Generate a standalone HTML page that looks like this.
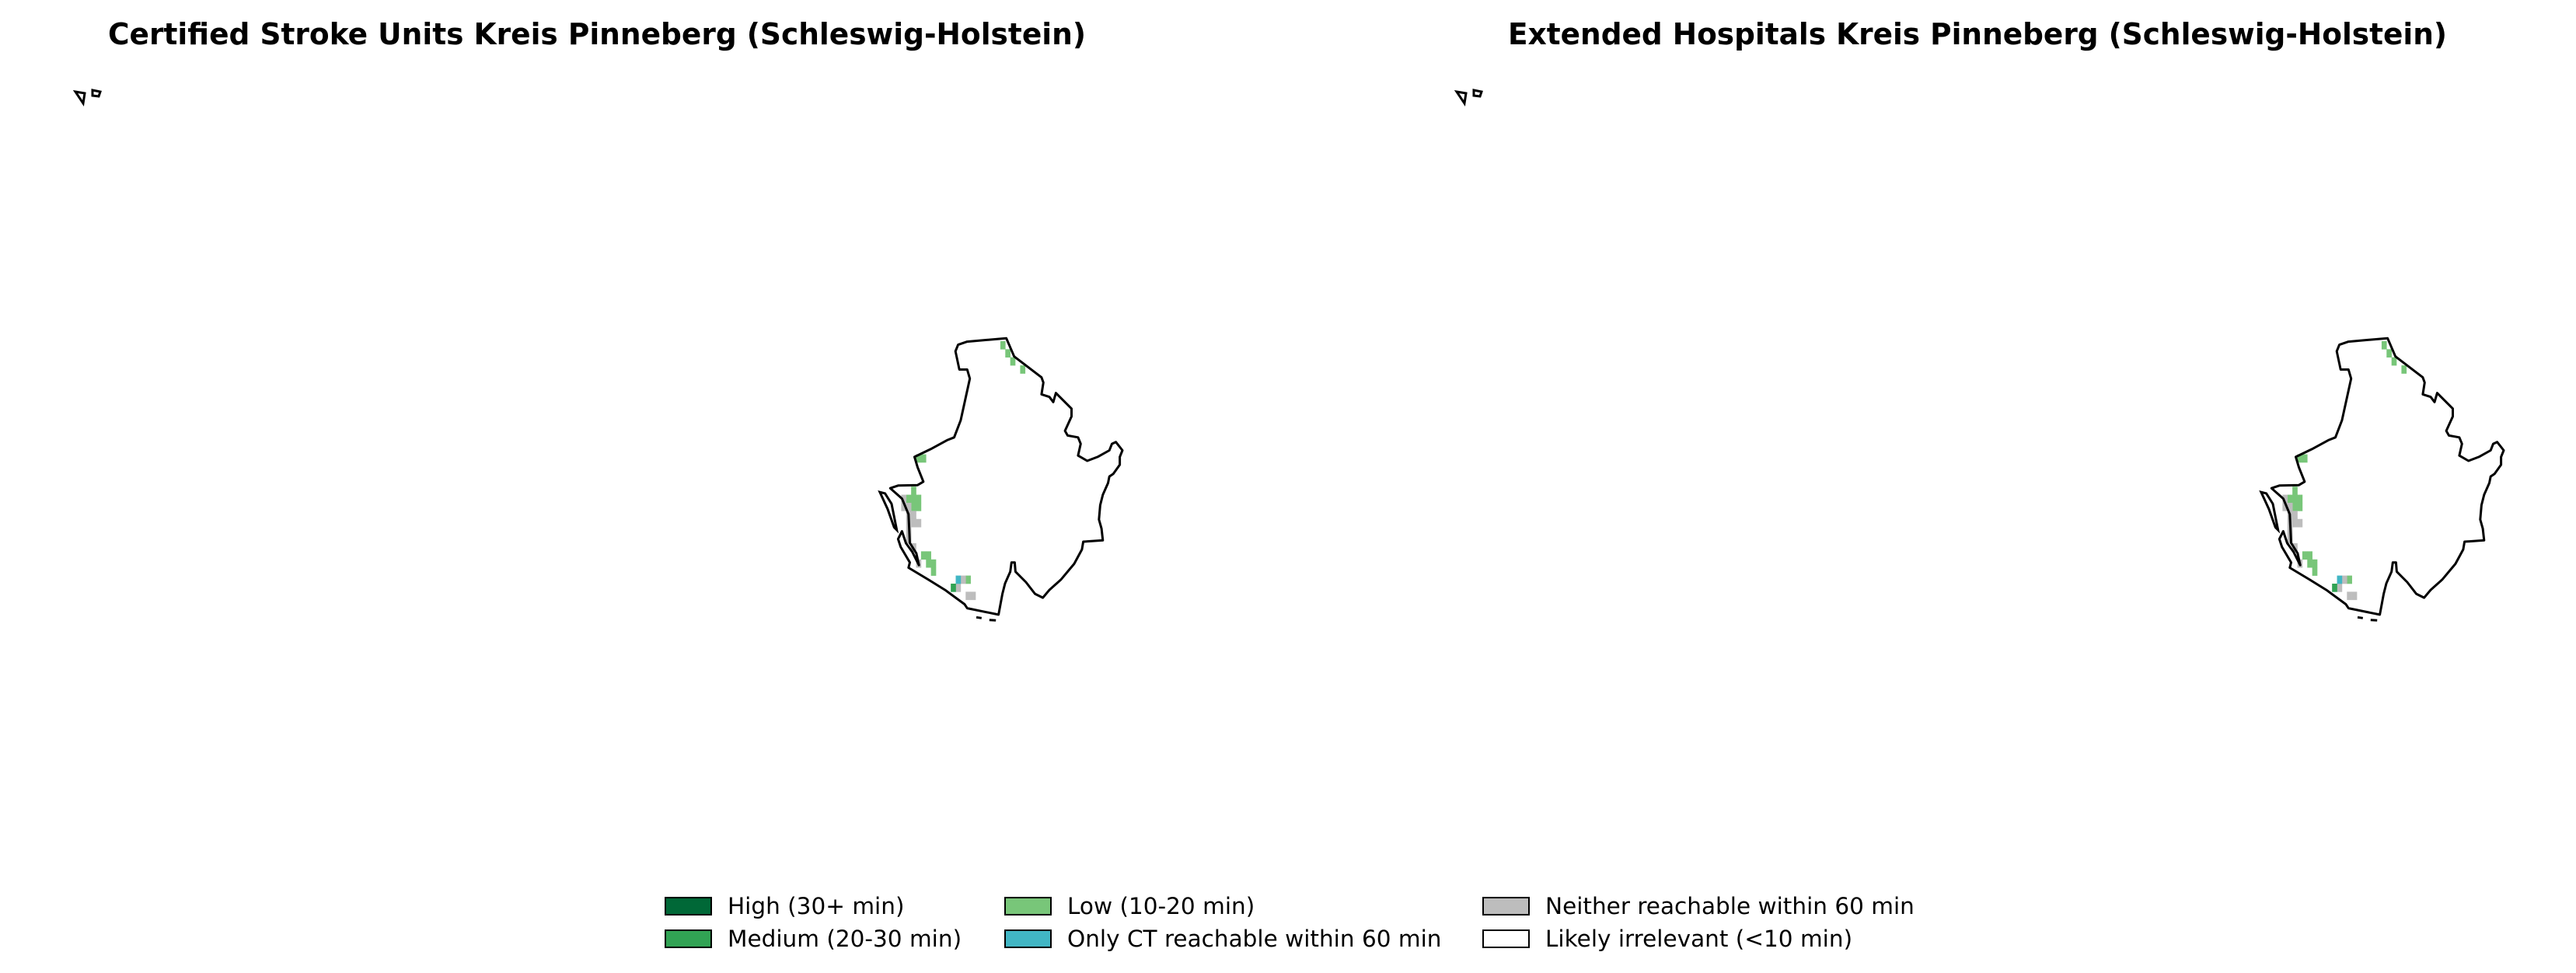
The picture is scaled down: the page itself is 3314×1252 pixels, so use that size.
<!DOCTYPE html>
<html><head><meta charset="utf-8"><style>
html,body{margin:0;padding:0;background:#fff;}
svg{display:block;font-family:"DejaVu Sans","Liberation Sans",sans-serif;}
</style></head><body>
<svg id="chart" width="3314" height="1252" viewBox="0 0 3314 1252" xmlns="http://www.w3.org/2000/svg">
<rect width="3314" height="1252" fill="#fff"/>
<text x="139" y="57" font-size="38" font-weight="bold" textLength="1258" lengthAdjust="spacingAndGlyphs">Certified Stroke Units Kreis Pinneberg (Schleswig-Holstein)</text>
<text x="1940" y="57" font-size="38" font-weight="bold" textLength="1208" lengthAdjust="spacingAndGlyphs">Extended Hospitals Kreis Pinneberg (Schleswig-Holstein)</text>
<g id="maps"></g>
<g id="legend"></g>
</svg>
<script>
// Data
const categories = ["High (30+ min)","Medium (20-30 min)","Low (10-20 min)","Only CT reachable within 60 min","Neither reachable within 60 min","Likely irrelevant (<10 min)"];
const catColors = ["#006837","#31a354","#78c679","#41b6c4","#bdbdbd","#ffffff"];
const cellCols = [20,21,22,24,3,4,2,1,2,3,2,3,4,5,5,6,6,13, 0,0,1,1,2,1,2,3,1,1,2,3,12,11,13,14, 11, 10];
const cellRows = [-19,-18,-17,-16,-5,-5,-1,0,0,0,1,1,7,7,8,8,9,10, 0,1,1,2,2,3,3,3,4,5,6,8,10,11,12,12, 10, 11];
const cellCats = [2,2,2,2,2,2,2,2,2,2,2,2,2,2,2,2,2,2, 4,4,4,4,4,4,4,4,4,4,4,4,4,4,4,4, 3, 1];
const panelOffsets = [0,1777];
const panelNames = ["left-map","right-map"];

const NS="http://www.w3.org/2000/svg";
const S=2.98, OX=1100, OY=400;
function zx(x){return OX+x/S;}
function zy(y){return OY+y/S;}
const cellW=19/S, cellH=31/S, gx0=zx(177), gy0=zy(705);
function cellX(c){return gx0+c*cellW;}
function cellY(r){return gy0+r*cellH;}

const outline=[[430,118],[580,105],[610,175],[715,255],[722,275],[715,320],[745,330],[760,350],[770,315],[830,375],[830,405],[805,460],[815,478],[855,485],[865,510],[855,555],[890,575],[930,560],[975,535],[985,510],[1000,503],[1025,535],[1015,560],[1015,590],[990,625],[975,635],[970,660],[950,705],[940,745],[935,800],[945,835],[950,880],[875,885],[870,915],[840,970],[790,1030],[745,1070],[720,1100],[690,1085],[655,1040],[615,1000],[612,965],[600,965],[595,1000],[575,1045],[565,1085],[550,1165],[430,1140],[420,1125],[345,1070],[280,1030],[205,985],[210,965],[175,905],[165,875],[180,845],[195,890],[220,925],[245,975],[235,930],[210,890],[205,780],[180,720],[135,680],[165,670],[240,668],[262,655],[240,600],[228,560],[290,530],[355,495],[380,485],[405,420],[440,260],[430,225],[400,225],[385,155],[395,130],[430,118]];
const island=[[95,695],[115,700],[140,740],[160,840],[150,830],[125,760],[95,695]];
const dash1=[[465,1175],[485,1178]], dash2=[[515,1185],[540,1187]];
function pts(a,dx){return a.map(p=>(zx(p[0])+dx).toFixed(1)+","+zy(p[1]).toFixed(1)).join(" ");}

const maps=document.getElementById('maps');
panelOffsets.forEach((dx,pi)=>{
  const g=document.createElementNS(NS,'g');
  
  
  maps.appendChild(g);
  for(let i=0;i<cellCols.length;i++){
    const r=document.createElementNS(NS,'rect');
    r.setAttribute('x',cellX(cellCols[i])+dx);
    r.setAttribute('y',cellY(cellRows[i]));
    r.setAttribute('width',cellW+0.3);
    r.setAttribute('height',cellH+0.3);
    r.setAttribute('fill',catColors[cellCats[i]]);
    
    
    g.appendChild(r);
  }
  const p=document.createElementNS(NS,'polygon');
  p.setAttribute('points',pts(outline,dx));
  p.setAttribute('fill','none');p.setAttribute('stroke','#000');p.setAttribute('stroke-width','3');p.setAttribute('stroke-linejoin','round');
  
  
  g.appendChild(p);
  const is=document.createElementNS(NS,'polygon');
  is.setAttribute('points',pts(island,dx));
  is.setAttribute('fill','none');is.setAttribute('stroke','#000');is.setAttribute('stroke-width','3');
  
  
  g.appendChild(is);
  [dash1,dash2].forEach(d=>{
    const l=document.createElementNS(NS,'polyline');
    l.setAttribute('points',pts(d,dx));
    l.setAttribute('stroke','#000');l.setAttribute('stroke-width','3');
    
    
    g.appendChild(l);
  });
  const sm=document.createElementNS(NS,'path');
  const bx=97+dx;
  sm.setAttribute('d',`M${bx},118 L${bx+12},120 L${bx+10},133 Z M${bx+22},116 L${bx+32},118 L${bx+30},124 L${bx+22},123 Z`);
  sm.setAttribute('fill','none');sm.setAttribute('stroke','#000');sm.setAttribute('stroke-width','3');
  
  
  g.appendChild(sm);
});

const legend=document.getElementById('legend');
const lx=[856,856,1293,1293,1908,1908], ly=[1166,1208,1166,1208,1166,1208];
const order=[0,1,2,3,4,5];
order.forEach((ci,i)=>{
  const r=document.createElementNS(NS,'rect');
  r.setAttribute('x',lx[i]);r.setAttribute('y',ly[i]-11);r.setAttribute('width',59);r.setAttribute('height',22);
  r.setAttribute('fill',catColors[ci]);r.setAttribute('stroke','#000');r.setAttribute('stroke-width','2');
  
  
  legend.appendChild(r);
  const t=document.createElementNS(NS,'text');
  t.setAttribute('x',lx[i]+80);t.setAttribute('y',ly[i]+10);t.setAttribute('font-size','29.5');
  t.textContent=categories[ci];
  
  
  legend.appendChild(t);
});
</script>
</body></html>
